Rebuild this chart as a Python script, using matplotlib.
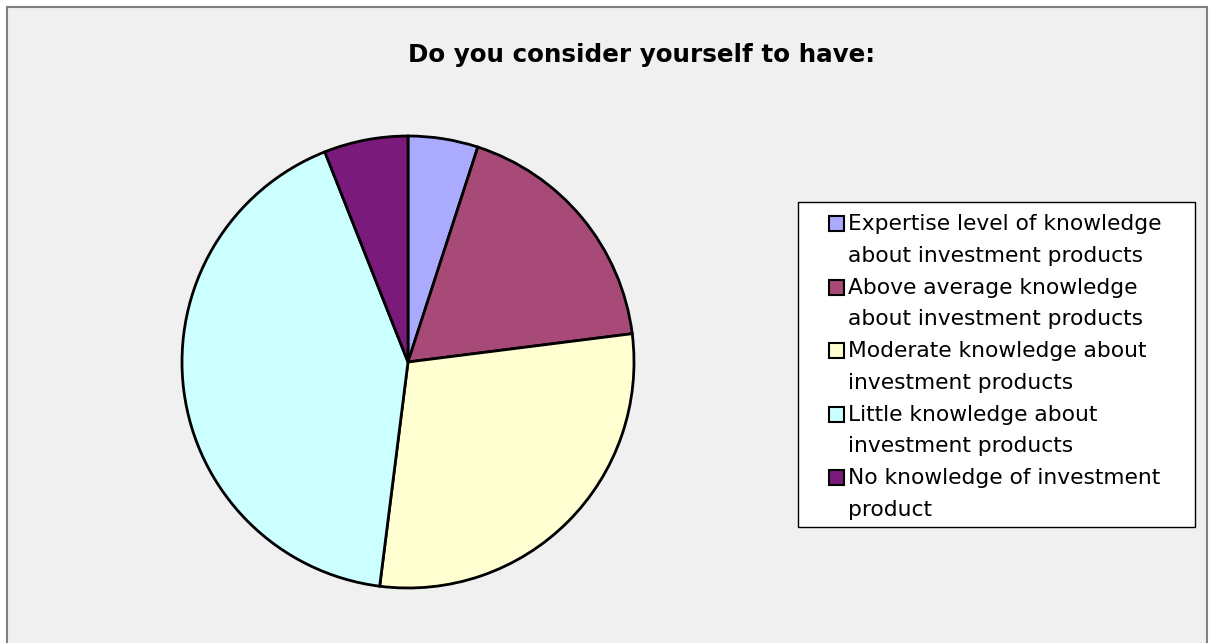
"""Pie chart: self-rated knowledge of investment products."""

import matplotlib

matplotlib.use("Agg")
import matplotlib.pyplot as plt
from matplotlib.legend_handler import HandlerPatch
from matplotlib.patches import Patch, Rectangle

labels = [
    "Expertise level of knowledge\nabout investment products",
    "Above average knowledge\nabout investment products",
    "Moderate knowledge about\ninvestment products",
    "Little knowledge about\ninvestment products",
    "No knowledge of investment\nproduct",
]
shares = [5, 18, 29, 42, 6]
colors = ["#AAAAFF", "#A84A78", "#FFFFD2", "#CCFFFF", "#7A1A7A"]

W, H = 1214, 643
FS = 15.7
fig = plt.figure(figsize=(W / 100, H / 100), dpi=100)
fig.patch.set_facecolor("white")


def px_rect(x0, y0, x1, y1, **kw):
    """Rectangle given in pixel coords from the top-left corner."""
    return Rectangle((x0 / W, 1 - y1 / H), (x1 - x0) / W, (y1 - y0) / H,
                     transform=fig.transFigure, **kw)


# grey chart area with its thin border
fig.patches.append(px_rect(7, 7, 1207, 700, facecolor="#F0F0F0",
                           edgecolor="#808080", linewidth=1.5, zorder=-2))
# legend frame
fig.patches.append(px_rect(798, 202, 1195, 527, facecolor="white",
                           edgecolor="black", linewidth=1, zorder=-1))

fig.text(642 / W, 1 - 55 / H, "Do you consider yourself to have:",
         ha="center", va="center", fontsize=17.7, fontweight="bold",
         family="DejaVu Sans")

cx, cy, r = 408, 362, 226
ax = fig.add_axes([(cx - r) / W, 1 - (cy + r) / H, 2 * r / W, 2 * r / H])
ax.set_zorder(2)
ax.pie(shares, colors=colors, startangle=90, counterclock=False,
       wedgeprops=dict(edgecolor="black", linewidth=2))
ax.set_xlim(-1, 1)
ax.set_ylim(-1, 1)
ax.set_aspect("equal")
ax.axis("off")


def top_square(legend, orig_handle, xdescent, ydescent, width, height, fontsize):
    # small square at the right of the handle slot, level with the first line
    side = 10.8
    return Rectangle((width - side - xdescent, -ydescent + 12), side, side)


handles = [Patch(facecolor=c, edgecolor="black", linewidth=1.5) for c in colors]
leg = fig.legend(handles, labels, loc="upper left",
                 bbox_to_anchor=(809 / W, 1 - 214 / H),
                 frameon=False, fontsize=FS,
                 handler_map={Patch: HandlerPatch(patch_func=top_square)},
                 handlelength=1.6, handleheight=0.7, handletextpad=0.2,
                 labelspacing=0.55, borderpad=0, borderaxespad=0)
leg.set_zorder(3)
for t in leg.get_texts():
    t.set_linespacing(1.72)

fig.savefig("out.png", dpi=100)
